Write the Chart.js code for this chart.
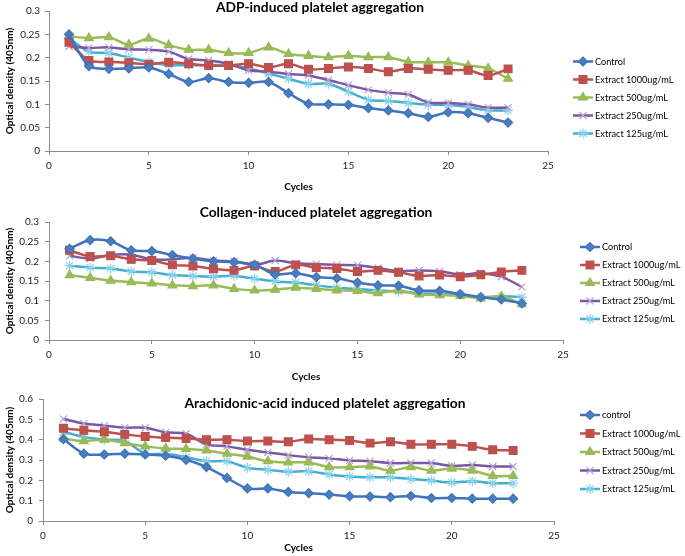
<!DOCTYPE html>
<html>
<head>
<meta charset="utf-8">
<script src="https://cdn.jsdelivr.net/npm/chart.js@4.4.1/dist/chart.umd.min.js"></script>
<style>
  body { margin: 0; background: #fff; width: 685px; height: 556px; overflow: hidden; }
  .panel { position: absolute; left: 0; }
</style>
</head>
<body>
<div class="panel" style="top:0px"><canvas id="adp" width="685" height="195"></canvas></div>
<div class="panel" style="top:200px"><canvas id="collagen" width="685" height="185"></canvas></div>
<div class="panel" style="top:385px"><canvas id="arachidonic" width="685" height="171"></canvas></div>
<script>
// cycles 1..23
const cycles = [1, 2, 3, 4, 5, 6, 7, 8, 9, 10, 11, 12, 13, 14, 15, 16, 17, 18, 19, 20, 21, 22, 23]

const seriesNames = ['Control', 'Extract 1000ug/mL', 'Extract 500ug/mL', 'Extract 250ug/mL', 'Extract 125ug/mL']

// ADP-induced
const adpControl = [0.250, 0.182, 0.176, 0.177, 0.179, 0.165, 0.148, 0.156, 0.148, 0.146, 0.148, 0.124, 0.101, 0.100, 0.099, 0.092, 0.087, 0.081, 0.073, 0.083, 0.081, 0.071, 0.061]
const adp1000 = [0.233, 0.194, 0.191, 0.189, 0.186, 0.190, 0.187, 0.183, 0.183, 0.187, 0.179, 0.187, 0.175, 0.177, 0.180, 0.177, 0.170, 0.177, 0.175, 0.173, 0.173, 0.162, 0.176]
const adp500 = [0.246, 0.242, 0.244, 0.228, 0.241, 0.227, 0.217, 0.217, 0.210, 0.210, 0.222, 0.208, 0.204, 0.201, 0.204, 0.201, 0.201, 0.191, 0.190, 0.190, 0.183, 0.177, 0.155]
const adp250 = [0.224, 0.221, 0.222, 0.218, 0.217, 0.213, 0.197, 0.194, 0.187, 0.173, 0.170, 0.165, 0.162, 0.152, 0.141, 0.131, 0.125, 0.121, 0.104, 0.103, 0.100, 0.093, 0.093]
const adp125 = [0.242, 0.213, 0.210, 0.200, 0.191, 0.184, 0.184, 0.184, 0.184, 0.177, 0.166, 0.155, 0.144, 0.144, 0.127, 0.110, 0.107, 0.103, 0.099, 0.099, 0.094, 0.087, 0.087]

// Collagen-induced
const colControl = [0.232, 0.254, 0.251, 0.228, 0.226, 0.216, 0.207, 0.200, 0.198, 0.191, 0.167, 0.170, 0.160, 0.157, 0.146, 0.139, 0.138, 0.126, 0.125, 0.117, 0.109, 0.103, 0.093]
const col1000 = [0.228, 0.212, 0.214, 0.205, 0.202, 0.191, 0.188, 0.181, 0.177, 0.188, 0.174, 0.191, 0.184, 0.182, 0.174, 0.177, 0.172, 0.163, 0.165, 0.161, 0.166, 0.173, 0.177]
const col500 = [0.165, 0.158, 0.151, 0.147, 0.144, 0.139, 0.137, 0.139, 0.130, 0.126, 0.128, 0.133, 0.130, 0.126, 0.125, 0.119, 0.126, 0.116, 0.114, 0.112, 0.106, 0.111, 0.091]
const col250 = [0.214, 0.207, 0.216, 0.217, 0.205, 0.205, 0.209, 0.202, 0.200, 0.191, 0.202, 0.195, 0.193, 0.191, 0.190, 0.183, 0.175, 0.177, 0.175, 0.166, 0.170, 0.161, 0.135]
const col125 = [0.189, 0.184, 0.182, 0.174, 0.172, 0.165, 0.163, 0.161, 0.163, 0.156, 0.149, 0.146, 0.139, 0.133, 0.130, 0.126, 0.123, 0.119, 0.118, 0.116, 0.109, 0.111, 0.109]

// Arachidonic-acid induced
const araControl = [0.403, 0.331, 0.327, 0.331, 0.327, 0.321, 0.301, 0.265, 0.212, 0.160, 0.160, 0.143, 0.137, 0.130, 0.122, 0.120, 0.117, 0.123, 0.113, 0.113, 0.110, 0.110, 0.110]
const ara1000 = [0.456, 0.446, 0.439, 0.426, 0.416, 0.410, 0.406, 0.400, 0.400, 0.393, 0.393, 0.390, 0.403, 0.400, 0.396, 0.383, 0.390, 0.377, 0.377, 0.377, 0.367, 0.350, 0.347]
const ara500 = [0.406, 0.393, 0.400, 0.383, 0.367, 0.357, 0.354, 0.347, 0.331, 0.317, 0.294, 0.288, 0.288, 0.265, 0.265, 0.268, 0.248, 0.265, 0.248, 0.258, 0.248, 0.222, 0.222]
const ara250 = [0.502, 0.479, 0.469, 0.459, 0.459, 0.436, 0.429, 0.377, 0.367, 0.350, 0.337, 0.324, 0.314, 0.308, 0.298, 0.294, 0.285, 0.285, 0.285, 0.271, 0.275, 0.268, 0.268]
const ara125 = [0.439, 0.413, 0.400, 0.393, 0.331, 0.331, 0.314, 0.294, 0.294, 0.262, 0.252, 0.242, 0.245, 0.229, 0.219, 0.215, 0.215, 0.206, 0.199, 0.189, 0.196, 0.186, 0.186]

const yTicksSmall = [0, 0.05, 0.1, 0.15, 0.2, 0.25, 0.3]
const yTicksBig = [0, 0.1, 0.2, 0.3, 0.4, 0.5, 0.6]

const FONT = 'Lato, "Open Sans", sans-serif'

// line colour, marker fill, marker border, point style, radius
const looks = [
    {line: '#3f72bf', fill: '#4a7ebb', border: '#3f72bf', style: 'rectRot', r: 4.5},
    {line: '#c0504d', fill: '#c0504d', border: '#b9504d', style: 'rect', r: 5.5},
    {line: '#9bbb59', fill: '#9bbb59', border: '#98b954', style: 'triangle', r: 5},
    {line: '#7b58a6', fill: '#b5a4d4', border: '#b5a4d4', style: 'crossRot', r: 5},
    {line: '#45aed0', fill: '#86d3ea', border: '#86d3ea', style: 'star', r: 5}
]

function makeSets(seriesList, names){
    return seriesList.map(function(vals, i){
        let lk = looks[i]
        return {
            label: names[i],
            data: cycles.map(function(c, k){ return {x: c, y: vals[k]} }),
            borderColor: lk.line,
            borderWidth: 2.5,
            pointStyle: lk.style,
            pointRadius: lk.r,
            pointBackgroundColor: lk.fill,
            pointBorderColor: lk.border,
            pointBorderWidth: 1.2,
            tension: 0.3,
            fill: false
        }
    })
}

const legendNames = {
    adp: seriesNames,
    collagen: seriesNames,
    arachidonic: ['control'].concat(seriesNames.slice(1))
}

// title + side legend, drawn on the canvas
const panelText = {
    id: 'panelText',
    afterDraw(chart, args, opts){
        let ctx = chart.ctx
        ctx.save()
        ctx.fillStyle = '#000'
        ctx.textAlign = 'center'
        ctx.textBaseline = 'middle'
        ctx.font = 'bold 13.8px ' + FONT
        ctx.fillText(opts.title, opts.titleX, opts.titleY)

        chart.data.datasets.forEach(function(ds, i){
            let y = opts.legendY + i * opts.legendStep
            let x = opts.legendX
            ctx.strokeStyle = ds.borderColor
            ctx.lineWidth = 2.5
            ctx.beginPath()
            ctx.moveTo(x, y)
            ctx.lineTo(x + 20, y)
            ctx.stroke()
            ctx.fillStyle = ds.pointBackgroundColor
            ctx.strokeStyle = ds.pointBorderColor
            ctx.lineWidth = ds.pointBorderWidth
            Chart.helpers.drawPoint(ctx, {pointStyle: ds.pointStyle, radius: ds.pointRadius, rotation: 0, borderWidth: ds.pointBorderWidth}, x + 10, y)
            ctx.fillStyle = '#000'
            ctx.textAlign = 'left'
            ctx.font = '9.2px ' + FONT
            ctx.fillText(legendNames[chart.canvas.id][i], x + 22, y + 0.5)
        })
        ctx.restore()
    }
}

function drawPanel(id, sets, cfg){
    let tickVals = cfg.yTicks
    new Chart(document.getElementById(id), {
        type: 'line',
        data: {datasets: sets},
        plugins: [panelText],
        options: {
            responsive: false,
            animation: false,
            layout: {padding: {top: cfg.top, right: cfg.right, left: 0, bottom: 0}},
            plugins: {
                legend: {display: false},
                tooltip: {enabled: false},
                panelText: cfg.text
            },
            scales: {
                x: {
                    type: 'linear', min: 0, max: 25,
                    afterFit: function(s){ s.height = cfg.xHeight },
                    ticks: {stepSize: 5, padding: 5, color: '#222', font: {family: FONT, size: 10}},
                    grid: {drawOnChartArea: false, drawTicks: true, tickLength: 4, color: '#8c8c8c'},
                    border: {color: '#8c8c8c'},
                    title: {display: true, text: 'Cycles', color: '#000', font: {family: FONT, size: 10, weight: 'bold'}, padding: {top: 0, bottom: 2}}
                },
                y: {
                    min: 0, max: tickVals[tickVals.length - 1],
                    afterFit: function(s){ s.width = cfg.left },
                    afterBuildTicks: function(s){ s.ticks = tickVals.map(function(v){ return {value: v} }) },
                    ticks: {padding: cfg.yPad, color: '#222', font: {family: FONT, size: 10}, callback: function(v){ return String(+v.toFixed(2)) }},
                    grid: {drawOnChartArea: false, drawTicks: true, tickLength: 4, color: '#8c8c8c'},
                    border: {color: '#8c8c8c'},
                    title: {display: true, text: 'Optical density (405nm)', color: '#000', font: {family: FONT, size: 10, weight: 'bold'}, padding: {top: 4, bottom: 0}}
                }
            }
        }
    })
}

drawPanel('adp', makeSets([adpControl, adp1000, adp500, adp250, adp125], seriesNames), {
    top: 7, right: 137, left: 49, xHeight: 44, yPad: 5, yTicks: yTicksSmall,
    text: {title: 'ADP-induced platelet aggregation', titleX: 320, titleY: 8, legendX: 573, legendY: 61.5, legendStep: 18}
})

drawPanel('collagen', makeSets([colControl, col1000, col500, col250, col125], seriesNames), {
    top: 22, right: 122, left: 49, xHeight: 45, yPad: 6, yTicks: yTicksSmall,
    text: {title: 'Collagen-induced platelet aggregation', titleX: 316, titleY: 13, legendX: 580, legendY: 47, legendStep: 18}
})

drawPanel('arachidonic', makeSets([araControl, ara1000, ara500, ara250, ara125], seriesNames), {
    top: 14, right: 131, left: 43, xHeight: 35, yPad: 6, yTicks: yTicksBig,
    text: {title: 'Arachidonic-acid induced platelet aggregation', titleX: 325, titleY: 19, legendX: 580, legendY: 30, legendStep: 18.5}
})
</script>
</body>
</html>
